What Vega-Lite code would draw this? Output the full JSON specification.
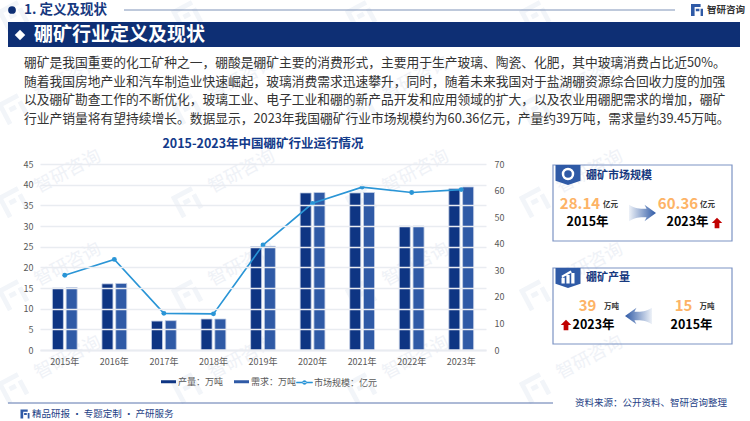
{"$schema":"https://vega.github.io/schema/vega-lite/v6.json","width":446,"height":186,"autosize":{"type":"none"},"padding":{"left":40,"top":164,"right":264,"bottom":71},"background":"#ffffff","config":{"font":"Noto Sans CJK SC","view":{"stroke":null},"scale":{"pointPadding":0}},"resolve":{"scale":{"x":"independent","y":"independent"}},"layer":[
{"data":{"values":[{"c":"c1","r":"r2"},{"c":"c2","r":"r2"},{"c":"c3","r":"r2"},{"c":"c4","r":"r2"},{"c":"c1","r":"r3"},{"c":"c2","r":"r3"},{"c":"c3","r":"r3"},{"c":"c4","r":"r3"},{"c":"c1","r":"r4"},{"c":"c2","r":"r4"},{"c":"c3","r":"r4"},{"c":"c4","r":"r4"},{"c":"c1","r":"r5"},{"c":"c2","r":"r5"},{"c":"c3","r":"r5"},{"c":"c4","r":"r5"}]},"mark":{"type":"text","text":"智研咨询","fontSize":18,"angle":332,"fill":"#eff2f7"},"encoding":{"x":{"field":"c","type":"nominal","axis":null,"scale":{"type":"point","domain":["c1","c2","c3","c4"],"range":[28,550]}},"y":{"field":"r","type":"nominal","axis":null,"scale":{"type":"point","domain":["r2","r3","r4","r5"],"range":[-85,194]}}}},
{"data":{"values":[{"c":"c1","r":"r1"},{"c":"c2","r":"r1"},{"c":"c3","r":"r1"},{"c":"c4","r":"r1"},{"c":"c1","r":"r2"},{"c":"c2","r":"r2"},{"c":"c3","r":"r2"},{"c":"c4","r":"r2"},{"c":"c1","r":"r3"},{"c":"c2","r":"r3"},{"c":"c3","r":"r3"},{"c":"c4","r":"r3"},{"c":"c1","r":"r4"},{"c":"c2","r":"r4"},{"c":"c3","r":"r4"},{"c":"c4","r":"r4"},{"c":"c1","r":"r5"},{"c":"c2","r":"r5"},{"c":"c3","r":"r5"},{"c":"c4","r":"r5"}]},"mark":{"type":"point","filled":true,"shape":"M-1,-1H.9V-.6H-.6V1H-1ZM-.3,-.25H.3V.15H-.3ZM.6,-.3H1V1H.6Z","size":576,"angle":332,"fill":"#f2f5f9","opacity":1},"encoding":{"x":{"field":"c","type":"nominal","axis":null,"scale":{"type":"point","domain":["c1","c2","c3","c4"],"range":[-27,495]}},"y":{"field":"r","type":"nominal","axis":null,"scale":{"type":"point","domain":["r1","r2","r3","r4","r5"],"range":[-148,224]}}}},
{"data":{"values":[{"x0":"left","x1":"right","y0":"top","y1":"bottom"}]},"mark":{"type":"rect","fill":"#0e2f74"},"encoding":{"x":{"field":"x0","type":"nominal","axis":null,"scale":{"type":"point","domain":["left","right"],"range":[-32,700]}},"x2":{"field":"x1"},"y":{"field":"y0","type":"nominal","axis":null,"scale":{"type":"point","domain":["top","bottom"],"range":[-142,-117]}},"y2":{"field":"y1"}}},
{"data":{"values":[{"a":"d"}]},"mark":{"type":"point","shape":"diamond","filled":true,"fill":"#ffffff","size":110,"opacity":1},"encoding":{"x":{"field":"a","type":"nominal","axis":null,"scale":{"type":"point","domain":["d"],"range":[-20,-20]}},"y":{"field":"a","type":"nominal","axis":null,"scale":{"type":"point","domain":["d"],"range":[-129,-129]}}}},
{"data":{"values":[{"a":"d","t":"硼矿行业定义及现状"}]},"mark":{"type":"text","align":"left","baseline":"middle","fontSize":19,"fontWeight":"bold","fill":"#ffffff"},"encoding":{"x":{"field":"a","type":"nominal","axis":null,"scale":{"type":"point","domain":["d"],"range":[-6,-6]}},"y":{"field":"a","type":"nominal","axis":null,"scale":{"type":"point","domain":["d"],"range":[-129,-129]}},"text":{"field":"t"}}},
{"data":{"values":[{"a":"d"}]},"mark":{"type":"point","shape":"circle","filled":true,"fill":"#0e2f74","size":60,"opacity":1},"encoding":{"x":{"field":"a","type":"nominal","axis":null,"scale":{"type":"point","domain":["d"],"range":[-28,-28]}},"y":{"field":"a","type":"nominal","axis":null,"scale":{"type":"point","domain":["d"],"range":[-154,-154]}}}},
{"data":{"values":[{"a":"d","t":"1. 定义及现状"}]},"mark":{"type":"text","align":"left","baseline":"middle","fontSize":13.5,"fontWeight":"bold","fill":"#17397f"},"encoding":{"x":{"field":"a","type":"nominal","axis":null,"scale":{"type":"point","domain":["d"],"range":[-16,-16]}},"y":{"field":"a","type":"nominal","axis":null,"scale":{"type":"point","domain":["d"],"range":[-154,-154]}},"text":{"field":"t"}}},
{"data":{"values":[{"x0":"l","x1":"r","y":"d"}]},"mark":{"type":"rule","stroke":"#7f93b8","strokeWidth":1},"encoding":{"x":{"field":"x0","type":"nominal","axis":null,"scale":{"type":"point","domain":["l","r"],"range":[84,635]}},"x2":{"field":"x1"},"y":{"field":"y","type":"nominal","axis":null,"scale":{"type":"point","domain":["d"],"range":[-154,-154]}}}},
{"data":{"values":[{"a":"d"}]},"mark":{"type":"point","filled":true,"shape":"M-1,-1H.6V-.5H-.4V1H-1ZM-.2,-.2H.4V.2H-.2ZM.6,-.2H1V1H.6Z","size":144,"fill":"#2f5aa6","opacity":1},"encoding":{"x":{"field":"a","type":"nominal","axis":null,"scale":{"type":"point","domain":["d"],"range":[657,657]}},"y":{"field":"a","type":"nominal","axis":null,"scale":{"type":"point","domain":["d"],"range":[-154,-154]}}}},
{"data":{"values":[{"a":"d","t":"智研咨询"}]},"mark":{"type":"text","align":"left","baseline":"middle","fontSize":9.5,"fontWeight":"bold","fill":"#333333"},"encoding":{"x":{"field":"a","type":"nominal","axis":null,"scale":{"type":"point","domain":["d"],"range":[667,667]}},"y":{"field":"a","type":"nominal","axis":null,"scale":{"type":"point","domain":["d"],"range":[-154,-154]}},"text":{"field":"t"}}},
{"data":{"values":[{"a":"d","l":"l1","t":"硼矿是我国重要的化工矿种之一，硼酸是硼矿主要的消费形式，主要用于生产玻璃、陶瓷、化肥，其中玻璃消费占比近50%。"},{"a":"d","l":"l2","t":"随着我国房地产业和汽车制造业快速崛起，玻璃消费需求迅速攀升，同时，随着未来我国对于盐湖硼资源综合回收力度的加强"},{"a":"d","l":"l3","t":"以及硼矿勘查工作的不断优化，玻璃工业、电子工业和硼的新产品开发和应用领域的扩大，以及农业用硼肥需求的增加，硼矿"},{"a":"d","l":"l4","t":"行业产销量将有望持续增长。数据显示，2023年我国硼矿行业市场规模约为60.36亿元，产量约39万吨，需求量约39.45万吨。"}]},"mark":{"type":"text","align":"left","baseline":"middle","fontSize":12.75,"fill":"#333333"},"encoding":{"x":{"field":"a","type":"nominal","axis":null,"scale":{"type":"point","domain":["d"],"range":[-16,-16]}},"y":{"field":"l","type":"nominal","axis":null,"scale":{"type":"point","domain":["l1","l2","l3","l4"],"range":[-101,-45]}},"text":{"field":"t"}}},
{"data":{"values":[{"x0":"l","x1":"r","y0":"t","y1":"b"}]},"mark":{"type":"rect","fill":"transparent","stroke":"#7c93c4","strokeWidth":1.2},"encoding":{"x":{"field":"x0","type":"nominal","axis":null,"scale":{"type":"point","domain":["l","r"],"range":[513,692]}},"x2":{"field":"x1"},"y":{"field":"y0","type":"nominal","axis":null,"scale":{"type":"point","domain":["t","b"],"range":[1,77]}},"y2":{"field":"y1"}}},
{"data":{"values":[{"x0":"l","x1":"r","y0":"t","y1":"b"}]},"mark":{"type":"rect","fill":"transparent","stroke":"#7c93c4","strokeWidth":1.2},"encoding":{"x":{"field":"x0","type":"nominal","axis":null,"scale":{"type":"point","domain":["l","r"],"range":[513,692]}},"x2":{"field":"x1"},"y":{"field":"y0","type":"nominal","axis":null,"scale":{"type":"point","domain":["t","b"],"range":[104,180]}},"y2":{"field":"y1"}}},
{"data":{"values":[{"a":"d","p":"p1"},{"a":"d","p":"p2"}]},"mark":{"type":"point","filled":true,"shape":"M-1,-.8H1V.45L0,.8L-1,.45Z","size":625,"fill":"#2f5aa6","opacity":1},"encoding":{"x":{"field":"a","type":"nominal","axis":null,"scale":{"type":"point","domain":["d"],"range":[528,528]}},"y":{"field":"p","type":"nominal","axis":null,"scale":{"type":"point","domain":["p1","p2"],"range":[11,114]}}}},
{"data":{"values":[{"a":"d"}]},"mark":{"type":"point","shape":"circle","filled":false,"stroke":"#ffffff","strokeWidth":2.5,"size":100,"opacity":1},"encoding":{"x":{"field":"a","type":"nominal","axis":null,"scale":{"type":"point","domain":["d"],"range":[528,528]}},"y":{"field":"a","type":"nominal","axis":null,"scale":{"type":"point","domain":["d"],"range":[10,10]}}}},
{"data":{"values":[{"a":"d"}]},"mark":{"type":"point","filled":true,"shape":"M-1,1V.1H-.5V1ZM-.25,1V-.3H.25V1ZM.5,1V-.6H1V1ZM-1,-.2L.4,-1L.6,-.7L-.9,.1Z","size":169,"fill":"#ffffff","opacity":1},"encoding":{"x":{"field":"a","type":"nominal","axis":null,"scale":{"type":"point","domain":["d"],"range":[528,528]}},"y":{"field":"a","type":"nominal","axis":null,"scale":{"type":"point","domain":["d"],"range":[113,113]}}}},
{"data":{"values":[{"a":"d","p":"p1","t":"硼矿市场规模"},{"a":"d","p":"p2","t":"硼矿产量"}]},"mark":{"type":"text","align":"left","baseline":"middle","fontSize":11,"fontWeight":"bold","fill":"#17397f"},"encoding":{"x":{"field":"a","type":"nominal","axis":null,"scale":{"type":"point","domain":["d"],"range":[546,546]}},"y":{"field":"p","type":"nominal","axis":null,"scale":{"type":"point","domain":["p1","p2"],"range":[12,114]}},"text":{"field":"t"}}},
{"data":{"values":[{"c":"a","r":"d","t":"28.14"},{"c":"b","r":"d","t":"60.36"}]},"mark":{"type":"text","baseline":"middle","fontSize":15,"fontWeight":"bold","fill":"#fdb366"},"encoding":{"x":{"field":"c","type":"nominal","axis":null,"scale":{"type":"point","domain":["a","b"],"range":[540,638]}},"y":{"field":"r","type":"nominal","axis":null,"scale":{"type":"point","domain":["d"],"range":[40,40]}},"text":{"field":"t"}}},
{"data":{"values":[{"c":"a","r":"d","t":"亿元"},{"c":"b","r":"d","t":"亿元"}]},"mark":{"type":"text","baseline":"middle","fontSize":7.5,"fontWeight":"bold","fill":"#333333"},"encoding":{"x":{"field":"c","type":"nominal","axis":null,"scale":{"type":"point","domain":["a","b"],"range":[570.5,667.5]}},"y":{"field":"r","type":"nominal","axis":null,"scale":{"type":"point","domain":["d"],"range":[41,41]}},"text":{"field":"t"}}},
{"data":{"values":[{"c":"a","r":"d","t":"2015年"},{"c":"b","r":"d","t":"2023年"}]},"mark":{"type":"text","baseline":"middle","fontSize":12.5,"fontWeight":"bold","fill":"#000000"},"encoding":{"x":{"field":"c","type":"nominal","axis":null,"scale":{"type":"point","domain":["a","b"],"range":[547.5,647.5]}},"y":{"field":"r","type":"nominal","axis":null,"scale":{"type":"point","domain":["d"],"range":[58,58]}},"text":{"field":"t"}}},
{"data":{"values":[{"c":"a","r":"d","t":"39"},{"c":"b","r":"d","t":"15"}]},"mark":{"type":"text","baseline":"middle","fontSize":15,"fontWeight":"bold","fill":"#fdb366"},"encoding":{"x":{"field":"c","type":"nominal","axis":null,"scale":{"type":"point","domain":["a","b"],"range":[547.5,643.5]}},"y":{"field":"r","type":"nominal","axis":null,"scale":{"type":"point","domain":["d"],"range":[142,142]}},"text":{"field":"t"}}},
{"data":{"values":[{"c":"a","r":"d","t":"万吨"},{"c":"b","r":"d","t":"万吨"}]},"mark":{"type":"text","baseline":"middle","fontSize":7.5,"fontWeight":"bold","fill":"#333333"},"encoding":{"x":{"field":"c","type":"nominal","axis":null,"scale":{"type":"point","domain":["a","b"],"range":[571.5,667]}},"y":{"field":"r","type":"nominal","axis":null,"scale":{"type":"point","domain":["d"],"range":[143,143]}},"text":{"field":"t"}}},
{"data":{"values":[{"c":"a","r":"d","t":"2023年"},{"c":"b","r":"d","t":"2015年"}]},"mark":{"type":"text","baseline":"middle","fontSize":12.5,"fontWeight":"bold","fill":"#000000"},"encoding":{"x":{"field":"c","type":"nominal","axis":null,"scale":{"type":"point","domain":["a","b"],"range":[553.5,651.5]}},"y":{"field":"r","type":"nominal","axis":null,"scale":{"type":"point","domain":["d"],"range":[160.5,160.5]}},"text":{"field":"t"}}},
{"data":{"values":[{"a":"d"}]},"mark":{"type":"point","filled":true,"shape":"M-1,-.62C-.5,-.3 -.1,-.32 .3,-.32L.15,-.62L1,0L.15,.62L.3,.32C-.1,.32 -.5,.3 -1,.62Z","size":729,"fill":{"gradient":"linear","x1":0,"y1":0,"x2":1,"y2":0,"stops":[{"offset":0,"color":"#eef2f8"},{"offset":1,"color":"#2f5aa6"}]},"opacity":1},"encoding":{"x":{"field":"a","type":"nominal","axis":null,"scale":{"type":"point","domain":["d"],"range":[602.5,602.5]}},"y":{"field":"a","type":"nominal","axis":null,"scale":{"type":"point","domain":["d"],"range":[49,49]}}}},
{"data":{"values":[{"a":"d"}]},"mark":{"type":"point","filled":true,"shape":"M1,-.62C.5,-.3 .1,-.32 -.3,-.32L-.15,-.62L-1,0L-.15,.62L-.3,.32C.1,.32 .5,.3 1,.62Z","size":729,"fill":{"gradient":"linear","x1":0,"y1":0,"x2":1,"y2":0,"stops":[{"offset":0,"color":"#2f5aa6"},{"offset":1,"color":"#eef2f8"}]},"opacity":1},"encoding":{"x":{"field":"a","type":"nominal","axis":null,"scale":{"type":"point","domain":["d"],"range":[598.5,598.5]}},"y":{"field":"a","type":"nominal","axis":null,"scale":{"type":"point","domain":["d"],"range":[152,152]}}}},
{"data":{"values":[{"c":"a","r":"p1"},{"c":"b","r":"p2"}]},"mark":{"type":"point","filled":true,"shape":"M0,-1L1,0H.45V1H-.45V0H-1Z","size":110,"fill":"#c00000","opacity":1},"encoding":{"x":{"field":"c","type":"nominal","axis":null,"scale":{"type":"point","domain":["a","b"],"range":[677,526]}},"y":{"field":"r","type":"nominal","axis":null,"scale":{"type":"point","domain":["p1","p2"],"range":[59,161]}}}},
{"data":{"values":[{"x0":"l","x1":"r","y":"d"}]},"mark":{"type":"rule","stroke":"#5b75ad","strokeWidth":1},"encoding":{"x":{"field":"x0","type":"nominal","axis":null,"scale":{"type":"point","domain":["l","r"],"range":[-32,513]}},"x2":{"field":"x1"},"y":{"field":"y","type":"nominal","axis":null,"scale":{"type":"point","domain":["d"],"range":[239,239]}}}},
{"data":{"values":[{"a":"d","t":"资料来源：公开资料、智研咨询整理"}]},"mark":{"type":"text","align":"left","baseline":"middle","fontSize":9.5,"fill":"#1e3f86"},"encoding":{"x":{"field":"a","type":"nominal","axis":null,"scale":{"type":"point","domain":["d"],"range":[535,535]}},"y":{"field":"a","type":"nominal","axis":null,"scale":{"type":"point","domain":["d"],"range":[239,239]}},"text":{"field":"t"}}},
{"data":{"values":[{"a":"d","t":"精品研报 · 专题定制 · 产研服务"}]},"mark":{"type":"text","align":"left","baseline":"middle","fontSize":9.5,"fill":"#1e3f86"},"encoding":{"x":{"field":"a","type":"nominal","axis":null,"scale":{"type":"point","domain":["d"],"range":[-8,-8]}},"y":{"field":"a","type":"nominal","axis":null,"scale":{"type":"point","domain":["d"],"range":[250,250]}},"text":{"field":"t"}}},
{"data":{"values":[{"a":"d"}]},"mark":{"type":"point","filled":true,"shape":"M-1,-1H.6V-.5H-.4V1H-1ZM-.2,-.2H.4V.2H-.2ZM.6,-.2H1V1H.6Z","size":81,"fill":"#2f5aa6","opacity":1},"encoding":{"x":{"field":"a","type":"nominal","axis":null,"scale":{"type":"point","domain":["d"],"range":[-15,-15]}},"y":{"field":"a","type":"nominal","axis":null,"scale":{"type":"point","domain":["d"],"range":[250,250]}}}},
{"data":{"values":[{"a":"d","t":"2015-2023年中国硼矿行业运行情况"}]},"mark":{"type":"text","align":"center","baseline":"middle","fontSize":12.5,"fontWeight":"bold","fill":"#123a8a"},"encoding":{"x":{"field":"a","type":"nominal","axis":null,"scale":{"type":"point","domain":["d"],"range":[223,223]}},"y":{"field":"a","type":"nominal","axis":null,"scale":{"type":"point","domain":["d"],"range":[-20,-20]}},"text":{"field":"t"}}},
{"data":{"values":[{"year":"2015年","series":"产量：万吨","value":15},{"year":"2015年","series":"需求：万吨","value":15.1},{"year":"2016年","series":"产量：万吨","value":16},{"year":"2016年","series":"需求：万吨","value":16.1},{"year":"2017年","series":"产量：万吨","value":7},{"year":"2017年","series":"需求：万吨","value":7.1},{"year":"2018年","series":"产量：万吨","value":7.5},{"year":"2018年","series":"需求：万吨","value":7.5},{"year":"2019年","series":"产量：万吨","value":25},{"year":"2019年","series":"需求：万吨","value":25.1},{"year":"2020年","series":"产量：万吨","value":38},{"year":"2020年","series":"需求：万吨","value":38.1},{"year":"2021年","series":"产量：万吨","value":38},{"year":"2021年","series":"需求：万吨","value":38.1},{"year":"2022年","series":"产量：万吨","value":30},{"year":"2022年","series":"需求：万吨","value":30},{"year":"2023年","series":"产量：万吨","value":39},{"year":"2023年","series":"需求：万吨","value":39.45}]},"mark":{"type":"bar","stroke":"#c3cfe6","strokeWidth":0.8},"encoding":{"x":{"field":"year","type":"nominal","title":null,"sort":null,"scale":{"type":"band","paddingInner":0.5,"paddingOuter":0.25},"axis":{"zindex":1,"labelAngle":0,"labelFontSize":9,"labelColor":"#595959","labelPadding":7,"ticks":false,"domainColor":"#e9ecf1","domainWidth":2,"grid":false}},"xOffset":{"field":"series","type":"nominal","scale":{"paddingInner":0.2,"paddingOuter":0}},"y":{"field":"value","type":"quantitative","title":null,"scale":{"domain":[0,45],"nice":false},"axis":{"zindex":1,"values":[0,5,10,15,20,25,30,35,40,45],"labelFontSize":9,"labelColor":"#595959","labelPadding":7,"ticks":false,"domain":false,"grid":true,"gridColor":"#e9ecf1","gridWidth":1.5}},"fill":{"field":"series","type":"nominal","scale":{"domain":["产量：万吨","需求：万吨"],"range":["#0e3583","#2f5aa6"]},"legend":{"title":null,"orient":"none","legendX":121,"legendY":210,"direction":"horizontal","columns":2,"columnPadding":10,"symbolType":"M-1,-.2H1V.2H-1Z","symbolSize":225,"symbolStrokeWidth":0,"labelFontSize":9,"labelColor":"#595959","labelOffset":2}}}},
{"data":{"name":"market","values":[{"year":"2015年","series":"市场规模：亿元","value":28.14},{"year":"2016年","series":"市场规模：亿元","value":34.1},{"year":"2017年","series":"市场规模：亿元","value":13.8},{"year":"2018年","series":"市场规模：亿元","value":13.6},{"year":"2019年","series":"市场规模：亿元","value":39.5},{"year":"2020年","series":"市场规模：亿元","value":55.2},{"year":"2021年","series":"市场规模：亿元","value":61.3},{"year":"2022年","series":"市场规模：亿元","value":59.3},{"year":"2023年","series":"市场规模：亿元","value":60.36}]},"mark":{"type":"line","strokeWidth":1.6},"encoding":{"x":{"field":"year","type":"nominal","sort":null,"axis":null,"scale":{"type":"band","paddingInner":0.5,"paddingOuter":0.25}},"y":{"field":"value","type":"quantitative","title":null,"scale":{"domain":[0,70],"nice":false},"axis":{"zindex":1,"orient":"right","values":[0,10,20,30,40,50,60,70],"labelFontSize":9,"labelColor":"#595959","labelPadding":8,"ticks":false,"domain":false,"grid":false}},"stroke":{"field":"series","type":"nominal","scale":{"domain":["市场规模：亿元"],"range":["#2a95d6"]},"legend":{"title":null,"orient":"none","legendX":256,"legendY":210,"symbolType":"M-1,-.07H1V.07H-1ZM-.25,0A.25,.25 0 1,0 .25,0A.25,.25 0 1,0 -.25,0Z","symbolSize":256,"symbolFillColor":"#2a95d6","symbolStrokeWidth":0.5,"labelFontSize":9,"labelColor":"#595959","labelOffset":1}}}},
{"data":{"name":"market"},"mark":{"type":"point","filled":true,"fill":"#2a95d6","size":24,"opacity":1},"encoding":{"x":{"field":"year","type":"nominal","sort":null,"axis":null,"scale":{"type":"band","paddingInner":0.5,"paddingOuter":0.25}},"y":{"field":"value","type":"quantitative","axis":null,"scale":{"domain":[0,70],"nice":false}}}}
]}
